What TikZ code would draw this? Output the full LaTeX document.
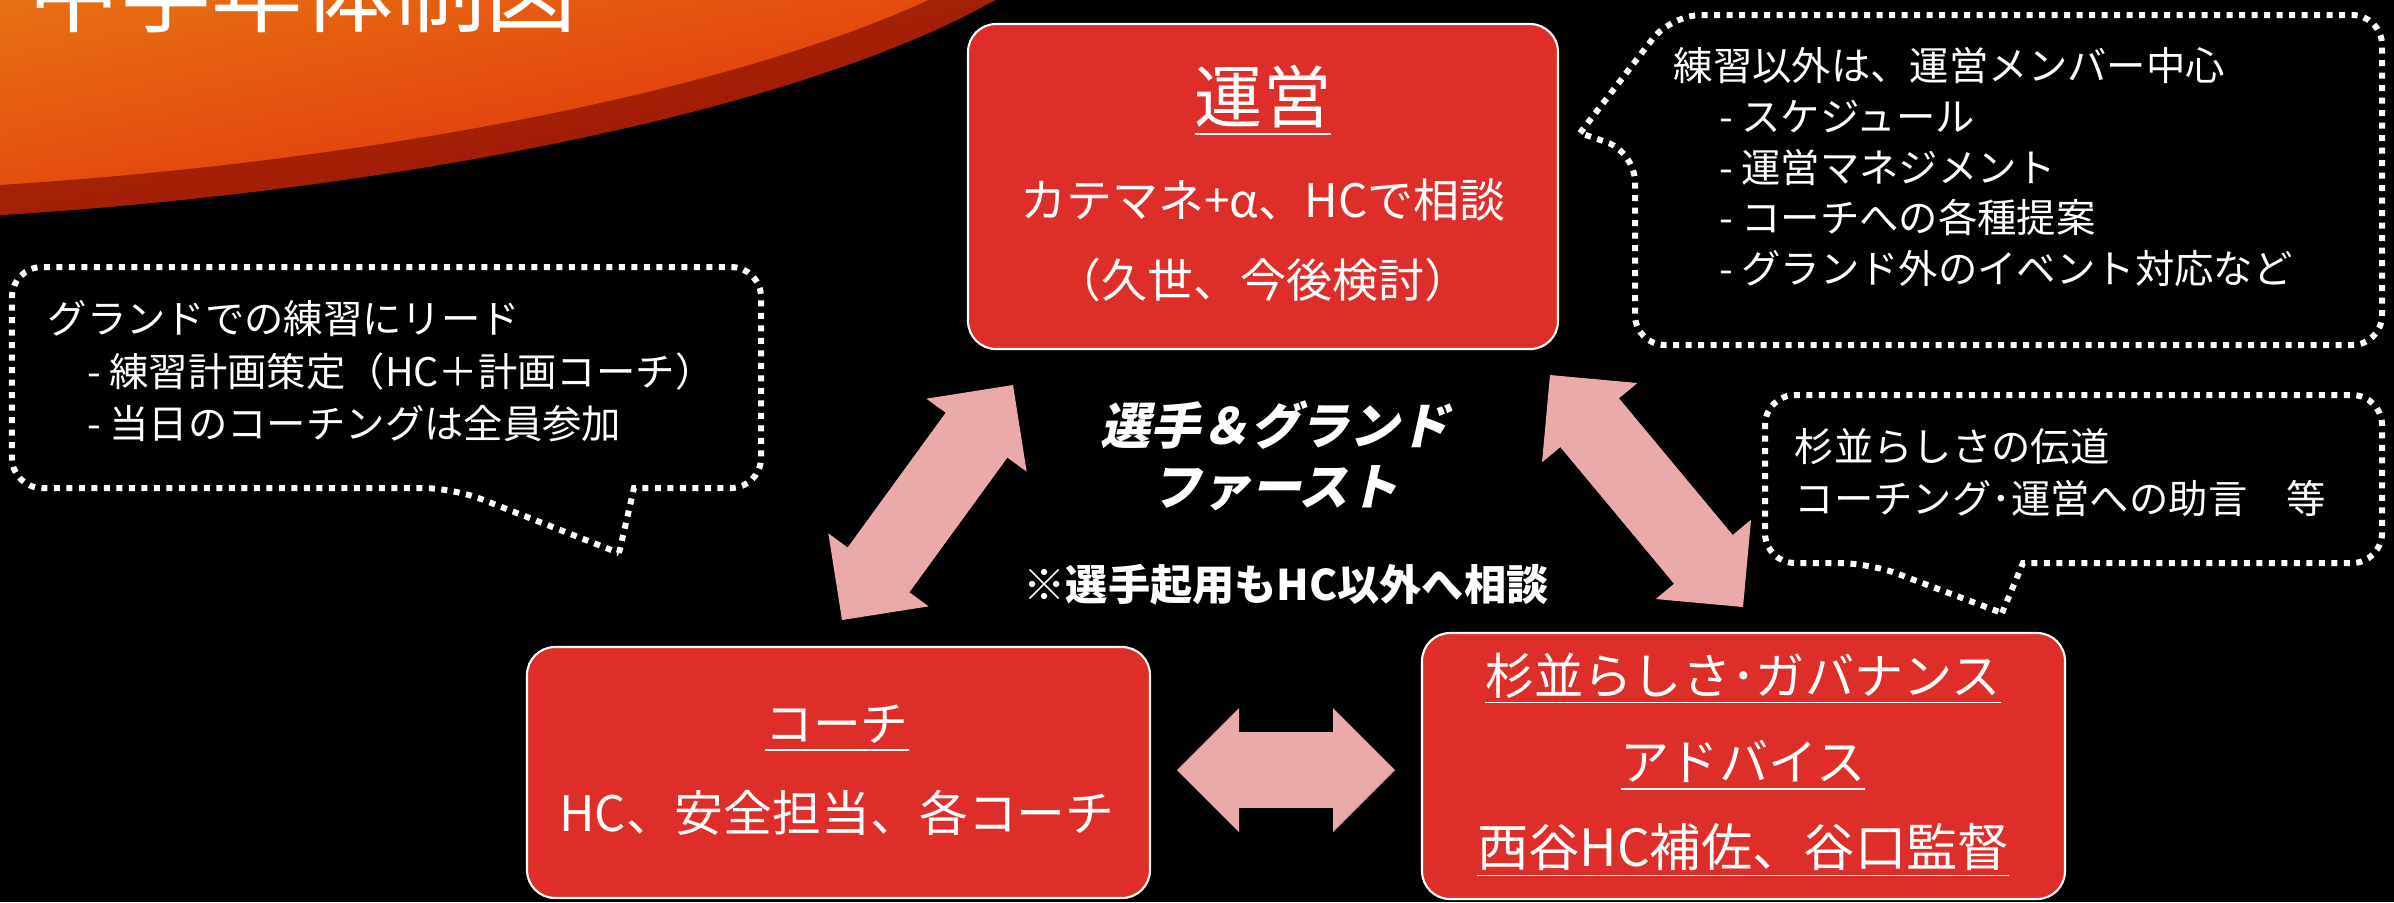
\documentclass[tikz,border=0pt]{standalone}
\usepackage{fontspec}
\setmainfont{Noto Sans CJK JP}
\newfontfamily\slantjp{Noto Sans CJK JP}[FakeSlant=0.22]
\usetikzlibrary{positioning,arrows.meta}
\definecolor{boxred}{RGB}{222,46,41}
\definecolor{arrowpink}{RGB}{235,170,170}
\definecolor{swooshorange}{RGB}{232,118,20}
\definecolor{swooshred}{RGB}{225,35,10}
\definecolor{swooshdark}{RGB}{110,0,0}
\newcommand{\ulbox}[1]{\setbox0=\hbox{#1}\rlap{\vrule height -0.15em depth 0.185em width \wd0}\box0}

\begin{document}
\begin{tikzpicture}[auto, on grid,
		box/.style={rectangle, rounded corners=0.28cm, draw=white, line width=0.6pt,
			fill=boxred, inner sep=0pt},
		bubble/.style={draw=white, line width=0.06cm, dash pattern=on 0.06cm off 0.065cm},
		txt/.style={text=white, inner sep=0pt},
		note/.style={txt, align=left, anchor=north west},
		shaft/.style={arrowpink, line width=0.76cm, shorten <=0.42cm, shorten >=0.42cm},
		dbl/.style={arrowpink, line width=0.76cm,
			{Triangle[width=1.24cm,length=0.62cm,line width=0pt]}-{Triangle[width=1.24cm,length=0.62cm,line width=0pt]}}]
		\fill[black] (0,0) rectangle (23.94,-9.02);
		\useasboundingbox (0,0) rectangle (23.94,-9.02);
		% swoosh
		\begin{scope}
			\clip (0,0) -- (9.95,0) .. controls (8,-1.1) and (4,-1.9) .. (0,-2.15) -- cycle;
			\shade[top color=swooshorange, bottom color=swooshred, shading angle=12] (-0.5,0.6) rectangle (10.5,-2.4);
			\draw[swooshdark, line width=0.6cm, opacity=0.55] (9.95,0) .. controls (8,-1.1) and (4,-1.9) .. (0,-2.15);
		\end{scope}
		\node[txt, anchor=base west, font=\fontsize{26}{26}\selectfont] (title) at (0.28,-0.25) {中学年体制図};
		% boxes
		\node[box, minimum width=5.90cm, minimum height=3.25cm] (unei) at (12.63,-1.865) {};
		\node[box, minimum width=6.23cm, minimum height=2.51cm] (coach) at (8.385,-7.725) {};
		\node[box, minimum width=6.43cm, minimum height=2.66cm] (advice) at (17.435,-7.66) {};
		\node[txt, font=\fontsize{19.4}{20}\selectfont] (uneiT) at (12.63,-1.00) {\ulbox{運営}};
		\node[txt, font=\fontsize{13.1}{14}\selectfont, below=1.00cm of uneiT] (uneiA) {カテマネ+α、HCで相談};
		\node[txt, font=\fontsize{13.1}{14}\selectfont, below=0.80cm of uneiA] (uneiB) {（久世、今後検討）};
		\node[txt, font=\fontsize{13.6}{14}\selectfont] (coachT) at (8.37,-7.28) {\ulbox{コーチ}};
		\node[txt, font=\fontsize{13.9}{14}\selectfont, below=0.85cm of coachT] (coachA) {HC、安全担当、各コーチ};
		\node[txt, font=\fontsize{14}{14}\selectfont] (advT) at (17.43,-6.78) {\ulbox{杉並らしさ･ガバナンス}};
		\node[txt, font=\fontsize{14}{14}\selectfont, below=0.87cm of advT] (advA) {\ulbox{アドバイス}};
		\node[txt, font=\fontsize{14.6}{15}\selectfont, below=0.85cm of advA] (advB) {\ulbox{西谷HC補佐、谷口監督}};
		% centre
		\node[txt, font=\slantjp\bfseries\fontsize{14.2}{15}\selectfont] (motto) at (12.75,-4.25) {選手＆グランド};
		\node[txt, font=\slantjp\bfseries\fontsize{14.2}{15}\selectfont, below=0.63cm of motto] (motto2) {ファースト};
		\node[txt, font=\bfseries\fontsize{12}{13}\selectfont] (memo) at (12.86,-5.85) {※選手起用もHC以外へ相談};
		% bubbles
		\draw[bubble] (6.19,-5.53) -- (6.34,-4.88) [rounded corners=0.3cm] -- (7.61,-4.88) -- (7.61,-2.67)
			-- (0.12,-2.67) -- (0.12,-4.88) -- (4.53,-4.88) [sharp corners] -- cycle;
		\draw[bubble] (15.80,-1.33) [rounded corners=0.3cm] -- (16.71,-0.15) -- (23.82,-0.15) -- (23.82,-3.45)
			-- (16.35,-3.45) -- (16.35,-1.52) [sharp corners] -- cycle;
		\draw[bubble] (20.02,-6.13) -- (20.23,-5.63) [rounded corners=0.3cm] -- (23.82,-5.63) -- (23.82,-3.95)
			-- (17.65,-3.95) -- (17.65,-5.63) -- (18.69,-5.63) [sharp corners] -- cycle;
		\node[note, font=\fontsize{11.2}{14.9}\selectfont] (coachNote) at (0.47,-3.00)
			{グランドでの練習にリード\\\hspace*{1.0em}- 練習計画策定（HC＋計画コーチ）\\\hspace*{1.0em}- 当日のコーチングは全員参加};
		\node[note, font=\fontsize{11.2}{14.4}\selectfont] (uneiNote) at (16.73,-0.47)
			{練習以外は、運営メンバー中心\\\hspace*{1.15em}- スケジュール\\\hspace*{1.15em}- 運営マネジメント\\\hspace*{1.15em}- コーチへの各種提案\\\hspace*{1.15em}- グランド外のイベント対応など};
		\node[note, font=\fontsize{11.2}{14.8}\selectfont] (adviceNote) at (17.94,-4.28)
			{杉並らしさの伝道\\コーチング･運営への助言　等};
		% arrows
		\coordinate (la1) at (8.42,-6.20);
		\coordinate (la2) at (10.13,-3.85);
		\coordinate (ra1) at (15.50,-3.75);
		\coordinate (ra2) at (17.43,-6.07);
		\coordinate (ha1) at (11.77,-7.70);
		\coordinate (ha2) at (13.95,-7.70);
		\foreach \a/\b in {la1/la2, ra1/ra2, ha1/ha2} {
			\draw[shaft] (\a) -- (\b);
			\draw[dbl] (\a) -- (\b);
		}
\end{tikzpicture}
\end{document}
